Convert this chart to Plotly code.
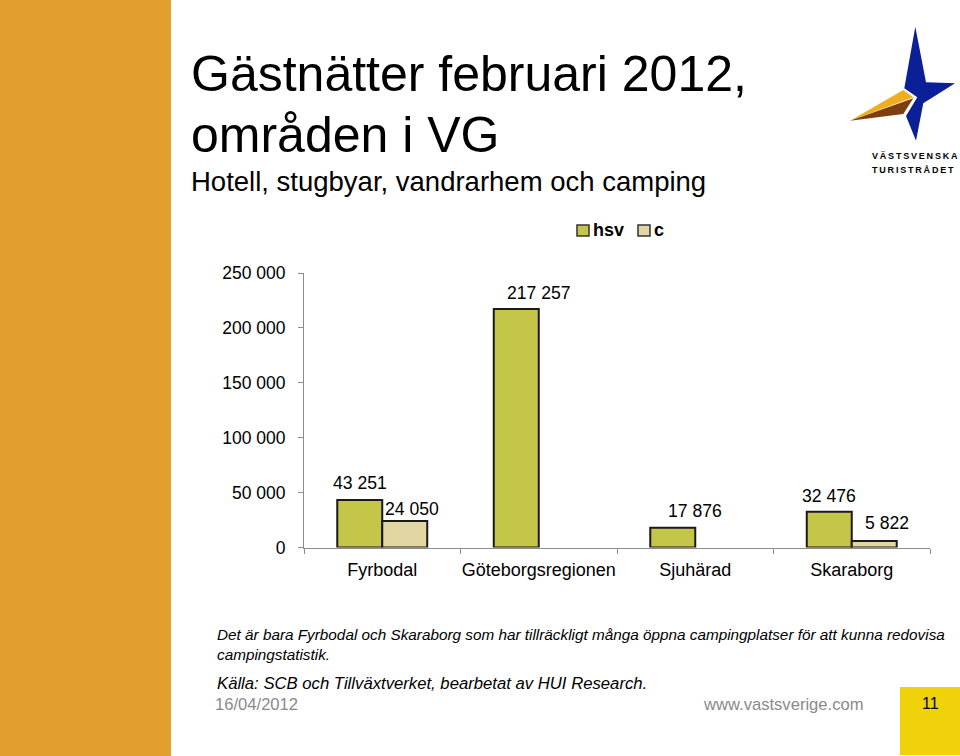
import plotly.graph_objects as go

W = 960
H = 756

categories = ["Fyrbodal", "Göteborgsregionen", "Sjuhärad", "Skaraborg"]
hsv_values = [43251, 217257, 17876, 32476]
c_values = [24050, None, None, 5822]
hsv_labels = ["43 251", "217 257", "17 876", "32 476"]
c_labels = ["24 050", None, None, "5 822"]
y_ticks = [0, 50000, 100000, 150000, 200000, 250000]
y_tick_labels = ["0", "50 000", "100 000", "150 000", "200 000", "250 000"]

HSV_COLOR = "#C4C64A"
C_COLOR = "#E2D6A2"


def px(x):
    return x / W


def py(y):
    return 1 - y / H


def text(x, y, s, size, color="#000000", anchor="left", **kw):
    return dict(xref="paper", yref="paper", x=px(x), y=py(y), text=s, showarrow=False,
                xanchor=anchor, yanchor="middle", align="left",
                font=dict(family="Liberation Sans", size=size, color=color, **kw))


def poly(points, color):
    path = "M " + " L ".join(f"{px(x)},{py(y)}" for x, y in points) + " Z"
    return dict(type="path", xref="paper", yref="paper", path=path,
                fillcolor=color, line=dict(width=0), layer="above")


def box(x0, y0, x1, y1, color, line=0):
    return dict(type="rect", xref="paper", yref="paper", x0=px(x0), x1=px(x1), y0=py(y0), y1=py(y1),
                fillcolor=color, line=dict(width=line, color="#333333"), layer="below")


fig = go.Figure()
fig.add_bar(name="hsv", x=categories, y=hsv_values, marker=dict(color=HSV_COLOR, line=dict(color="#1a1a1a", width=2)))
fig.add_bar(name="c", x=categories, y=c_values, marker=dict(color=C_COLOR, line=dict(color="#1a1a1a", width=2)))

shapes = [
    box(0, 0, 171, 756, "#E09F2F"),
    box(900, 687, 960, 755, "#F0D20A"),
    # legend swatches
    box(577, 225, 589, 236, HSV_COLOR, 1.5),
    box(638, 225, 650, 236, C_COLOR, 1.5),
    # logo
    poly([(915.3, 26.7), (926, 82.3), (955, 83.3), (923.3, 103.3), (916, 140.7),
          (906, 116), (917.3, 97.3), (904.3, 88.3)], "#0B1F96"),
    poly([(850, 120.7), (903.3, 90), (913.3, 97.3)], "#EFAE1E"),
    poly([(850, 120.7), (913.3, 98.3), (903.3, 114)], "#7E3F0E"),
]

annotations = [
    text(189, 74, "Gästnätter februari 2012,", 50),
    text(189, 135, "områden i VG", 50),
    text(189, 181, "Hotell, stugbyar, vandrarhem och camping", 27.5),
    text(591, 230, "hsv", 18, weight="bold"),
    text(652, 230, "c", 18, weight="bold"),
    text(215, 634, "Det är bara Fyrbodal och Skaraborg som har tillräckligt många öppna campingplatser för att kunna redovisa", 15.3, style="italic"),
    text(215, 654, "campingstatistik.", 15.3, style="italic"),
    text(215, 683, "Källa: SCB och Tillväxtverket, bearbetat av HUI Research.", 16.7, style="italic"),
    text(213, 704, "16/04/2012", 16.6, color="#8a8a8a"),
    text(701, 704, "www.vastsverige.com", 16.6, color="#8a8a8a"),
    text(930, 703, "11", 16, anchor="center"),
    text(870, 156, "V\u2009Ä\u2009S\u2009T\u2009S\u2009V\u2009E\u2009N\u2009S\u2009K\u2009A", 9, weight="bold"),
    text(870, 170, "T\u2009U\u2009R\u2009I\u2009S\u2009T\u2009R\u2009Å\u2009D\u2009E\u2009T", 9, weight="bold"),
]

# the labels were nudged by hand in the original
for cat, val, lab, dx, dy in zip(categories, hsv_values, hsv_labels, [-22.5, 0, 0, -22.5], [17, 16, 17, 16]):
    annotations.append(dict(x=cat, y=val, text=lab, showarrow=False, xshift=dx,
                            yshift=dy, font=dict(family="Liberation Sans", size=17.6, color="#000000")))
for cat, val, lab, dx, dy in zip(categories, c_values, c_labels, [30, 0, 0, 35], [12, 0, 0, 18]):
    if val is not None:
        annotations.append(dict(x=cat, y=val, text=lab, showarrow=False, xshift=dx,
                                yshift=dy, font=dict(family="Liberation Sans", size=17.6, color="#000000")))

fig.update_layout(
    width=W, height=H, margin=dict(l=0, r=0, t=0, b=0, autoexpand=False), autosize=False,
    paper_bgcolor="#ffffff", plot_bgcolor="rgba(0,0,0,0)",
    barmode="group", bargap=0.425, bargroupgap=0, showlegend=False,
    font=dict(family="Liberation Sans", size=17, color="#000000"),
    shapes=shapes, annotations=annotations,
    xaxis=dict(domain=[px(304), px(930)], showgrid=False, showline=True, linecolor="#8c8c8c", linewidth=1,
               ticks="outside", ticklen=5, tickcolor="#8c8c8c", tickson="boundaries", tickangle=0,
               ticklabelstandoff=6, tickfont=dict(size=18)),
    yaxis=dict(domain=[py(547.5), py(273)], range=[0, 250000], showgrid=False, zeroline=False, showline=True,
               linecolor="#8c8c8c", linewidth=1, ticks="outside", ticklen=5, tickcolor="#8c8c8c",
               tickvals=y_ticks, ticktext=y_tick_labels, ticklabelstandoff=9, tickfont=dict(size=17.5)),
)

# default page margins would push the figure off the window
fig.write_html("out.html", config={"displayModeBar": False},
               post_script="document.body.style.margin='0';")
